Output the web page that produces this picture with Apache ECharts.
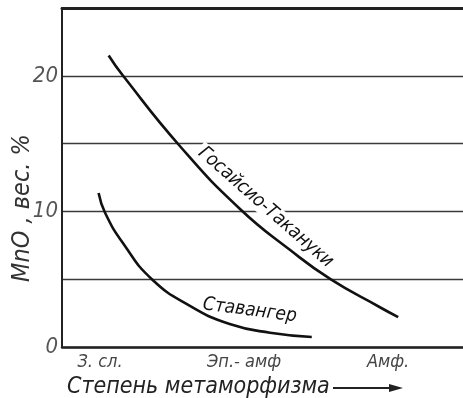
<!DOCTYPE html>
<html>
<head>
<meta charset="utf-8">
<script src="https://cdn.jsdelivr.net/npm/echarts@6/dist/echarts.min.js"></script>
<style>
  html, body { margin: 0; padding: 0; background: #fff; }
  #chart { width: 463px; height: 398px; }
</style>
</head>
<body>
<div id="chart"></div>
<script>
// Category positions along the metamorphism axis (1, 2, 3)
const categories = ['З. сл.', 'Эп.- амф', 'Амф.'];
const categoryPos = [1, 2, 3];

// Y axis ticks (only these are labelled)
const yLabelled = [0, 10, 20];

// Госайсио-Такануки curve (x = metamorphism position, y = MnO wt.%)
const gosaisioX = [1.06, 1.16, 1.56, 1.97, 2.32, 2.60, 2.94, 3.07];
const gosaisioY = [21.5, 20.0, 14.75, 10.2, 7.15, 5.0, 2.95, 2.2];

// Ставангер curve
const stavangerX = [0.99, 1.035, 1.16, 1.36, 1.63, 1.90, 2.18, 2.47];
const stavangerY = [11.35, 9.9, 7.65, 5.0, 3.0, 1.7, 1.05, 0.74];

const FONT = "'DejaVu Sans Condensed', 'DejaVu Sans', sans-serif";

const chart = echarts.init(document.getElementById('chart'), null, { renderer: 'canvas' });

const xMin = 0.736, xMax = 3.52;

chart.setOption({
  animation: false,
  backgroundColor: '#fff',
  grid: { left: 62, right: 0, top: 8, bottom: 51, containLabel: false },
  xAxis: [
    {
      type: 'value', min: xMin, max: xMax, position: 'bottom',
      axisLine: { show: true, onZero: false, lineStyle: { color: '#222', width: 2.5 } },
      axisTick: { show: false },
      splitLine: { show: false },
      axisLabel: {
        customValues: categoryPos,
        formatter: v => categories[Math.round(v) - 1] || '',
        color: '#444', fontStyle: 'italic', fontFamily: FONT, fontSize: 18, margin: 6
      }
    },
    {
      type: 'value', min: xMin, max: xMax, position: 'top',
      axisLine: { show: true, onZero: false, lineStyle: { color: '#222', width: 3 } },
      axisTick: { show: false }, axisLabel: { show: false }, splitLine: { show: false }
    }
  ],
  yAxis: {
    type: 'value', min: 0, max: 25, interval: 5,
    axisLine: { show: true, lineStyle: { color: '#222', width: 2 } },
    axisTick: { show: false },
    splitLine: { show: true, lineStyle: { color: '#3a3a3a', width: 1.4 } },
    axisLabel: {
      formatter: v => yLabelled.includes(v) ? String(v) : '',
      color: '#555', fontStyle: 'italic', fontFamily: FONT, fontSize: 22, margin: 4
    }
  },
  series: [
    {
      name: 'Госайсио-Такануки', type: 'line', smooth: 0.5, symbol: 'none',
      xAxisIndex: 0,
      lineStyle: { color: '#111', width: 2.6 },
      data: gosaisioX.map((x, i) => [x, gosaisioY[i]])
    },
    {
      name: 'Ставангер', type: 'line', smooth: 0.5, symbol: 'none',
      xAxisIndex: 0,
      lineStyle: { color: '#111', width: 2.6 },
      data: stavangerX.map((x, i) => [x, stavangerY[i]])
    }
  ]
});

// Labels placed via data coordinates
const toPx = (x, y) => chart.convertToPixel({ xAxisIndex: 0, yAxisIndex: 0 }, [x, y]);
const gLabel = toPx(2.15, 10.3);
const sLabel = toPx(2.04, 2.7);

chart.setOption({
  graphic: [
    {
      type: 'text', x: gLabel[0], y: gLabel[1], rotation: -0.72, z: 100,
      style: {
        text: 'Госайсио-Такануки', align: 'center', verticalAlign: 'middle',
        font: 'italic 19px ' + FONT, fill: '#111',
        backgroundColor: '#fff', padding: [0, 3]
      }
    },
    {
      type: 'text', x: sLabel[0], y: sLabel[1], rotation: -0.13, z: 100,
      style: {
        text: 'Ставангер', align: 'center', verticalAlign: 'middle',
        font: 'italic 19px ' + FONT, fill: '#111'
      }
    },
    {
      type: 'text', x: 22, y: 208, rotation: Math.PI / 2, z: 100,
      style: {
        text: 'MnO , вес. %', align: 'center', verticalAlign: 'middle',
        font: 'italic 25px ' + FONT, fill: '#333'
      }
    },
    {
      type: 'text', x: 67, y: 387, z: 100,
      style: {
        text: 'Степень метаморфизма', align: 'left', verticalAlign: 'middle',
        font: 'italic 23px ' + FONT, fill: '#222'
      }
    },
    {
      type: 'line', z: 100,
      shape: { x1: 333, y1: 388, x2: 392, y2: 388 },
      style: { stroke: '#222', lineWidth: 1.8 }
    },
    {
      type: 'polygon', z: 100,
      shape: { points: [[403, 388], [389, 384], [389, 392]] },
      style: { fill: '#222' }
    }
  ]
});
</script>
</body>
</html>
